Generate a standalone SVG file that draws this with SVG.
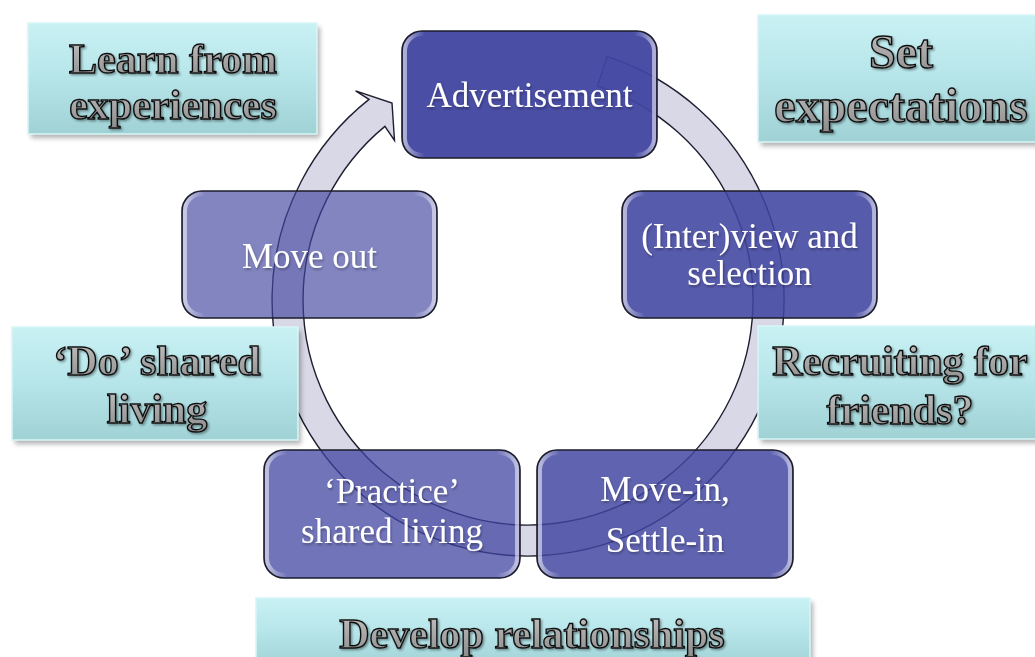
<svg xmlns="http://www.w3.org/2000/svg" width="1035" height="657" viewBox="0 0 1035 657">
  <defs>
    <linearGradient id="teal" x1="0" y1="0" x2="0" y2="1">
      <stop offset="0" stop-color="#c9f1f4"/>
      <stop offset="0.5" stop-color="#b6e5e9"/>
      <stop offset="1" stop-color="#9fd1d5"/>
    </linearGradient>
    <linearGradient id="greyText" x1="0" y1="0" x2="0" y2="1">
      <stop offset="0" stop-color="#c4c4c4"/>
      <stop offset="1" stop-color="#8c8c8c"/>
    </linearGradient>
    <linearGradient id="gloss" x1="0" y1="0" x2="1" y2="0">
      <stop offset="0" stop-color="#ffffff" stop-opacity="0.55"/>
      <stop offset="0.08" stop-color="#ffffff" stop-opacity="0"/>
      <stop offset="0.92" stop-color="#ffffff" stop-opacity="0"/>
      <stop offset="1" stop-color="#ffffff" stop-opacity="0.55"/>
    </linearGradient>
    <filter id="softShadow" x="-10%" y="-10%" width="130%" height="140%">
      <feGaussianBlur stdDeviation="2.5"/>
    </filter>
    <filter id="textShadow" x="-5%" y="-20%" width="115%" height="150%">
      <feDropShadow dx="1" dy="2" stdDeviation="1.2" flood-color="#000" flood-opacity="0.3"/>
    </filter>
    <filter id="labelShadow" x="-5%" y="-20%" width="115%" height="150%">
      <feDropShadow dx="1.5" dy="1.5" stdDeviation="1" flood-color="#000" flood-opacity="0.4"/>
    </filter>
  </defs>
  <style>
    .ring { fill: #d8d8e6; stroke: #1e1e30; stroke-width: 1.4; }
    .step { stroke: #1c1c2a; stroke-width: 1.6; }
    .glossy { fill: none; stroke: url(#gloss); stroke-width: 4; }
    .stepText { font-family: "Liberation Serif", "Times New Roman", serif; font-size: 35px; fill: #ffffff; text-anchor: middle; filter: url(#textShadow); }
    .note { fill: url(#teal); stroke: #d8f6f8; stroke-width: 1.5; }
    .noteShadow { fill: #000; opacity: 0.3; filter: url(#softShadow); }
    .noteText { font-family: "Liberation Serif", "Times New Roman", serif; font-weight: bold; font-size: 42px; fill: url(#greyText); stroke: #111; stroke-width: 1.4; text-anchor: middle; filter: url(#labelShadow); }
    .noteText.big { font-size: 48px; }
  </style>

  <rect width="1035" height="657" fill="#ffffff"/>

  <!-- circular arrow running clockwise behind the steps -->
  <g id="connectors">
    <path class="ring" d="M607.1,56.5 A256,256 0 1 1 369,99.4 L355.6,90.9 L392,103 L394.5,140.5 L384.9,126.4 A225,225 0 1 0 597.5,86 Z"/>
  </g>

  <!-- cycle steps -->
  <g id="step-advertisement">
    <rect class="step" x="402" y="31" width="255" height="127" rx="20" fill="#4044a0" fill-opacity="0.95"/>
    <rect class="glossy" x="405" y="34" width="249" height="121" rx="17"/>
    <text class="stepText" x="529.5" y="107">Advertisement</text>
  </g>
  <g id="step-interview">
    <rect class="step" x="622" y="191" width="255" height="127" rx="20" fill="#4044a0" fill-opacity="0.88"/>
    <rect class="glossy" x="625" y="194" width="249" height="121" rx="17"/>
    <text class="stepText" x="749.5" y="248">(Inter)view and</text>
    <text class="stepText" x="749.5" y="285">selection</text>
  </g>
  <g id="step-move-in">
    <rect class="step" x="537" y="450" width="256" height="128" rx="20" fill="#4044a0" fill-opacity="0.83"/>
    <rect class="glossy" x="540" y="453" width="250" height="122" rx="17"/>
    <text class="stepText" x="665" y="501">Move-in,</text>
    <text class="stepText" x="665" y="552">Settle-in</text>
  </g>
  <g id="step-practice">
    <rect class="step" x="264" y="450" width="256" height="128" rx="20" fill="#4044a0" fill-opacity="0.74"/>
    <rect class="glossy" x="267" y="453" width="250" height="122" rx="17"/>
    <text class="stepText" x="392" y="503">‘Practice’</text>
    <text class="stepText" x="392" y="543">shared living</text>
  </g>
  <g id="step-move-out">
    <rect class="step" x="182" y="191" width="255" height="127" rx="20" fill="#4044a0" fill-opacity="0.65"/>
    <rect class="glossy" x="185" y="194" width="249" height="121" rx="17"/>
    <text class="stepText" x="309.5" y="268">Move out</text>
  </g>

  <!-- side notes -->
  <g id="note-learn">
    <rect class="noteShadow" x="31" y="27" width="289" height="111"/>
    <rect class="note" x="28" y="23" width="289" height="111"/>
    <text class="noteText" x="173" y="73">Learn from</text>
    <text class="noteText" x="173" y="119">experiences</text>
  </g>
  <g id="note-expectations">
    <rect class="noteShadow" x="761" y="19" width="290" height="127"/>
    <rect class="note" x="758" y="15" width="290" height="127"/>
    <text class="noteText big" x="901" y="68">Set</text>
    <text class="noteText big" x="901" y="122">expectations</text>
  </g>
  <g id="note-do-shared">
    <rect class="noteShadow" x="15" y="331" width="286" height="113"/>
    <rect class="note" x="12" y="327" width="286" height="113"/>
    <text class="noteText" x="157" y="375">‘Do’ shared</text>
    <text class="noteText" x="157" y="423">living</text>
  </g>
  <g id="note-recruiting">
    <rect class="noteShadow" x="761" y="330" width="290" height="113"/>
    <rect class="note" x="758" y="326" width="290" height="113"/>
    <text class="noteText" x="900" y="375">Recruiting for</text>
    <text class="noteText" x="900" y="424">friends?</text>
  </g>
  <g id="note-relationships">
    <rect class="noteShadow" x="259" y="602" width="554" height="70"/>
    <rect class="note" x="256" y="598" width="554" height="70"/>
    <text class="noteText" x="532" y="648">Develop relationships</text>
  </g>
</svg>
